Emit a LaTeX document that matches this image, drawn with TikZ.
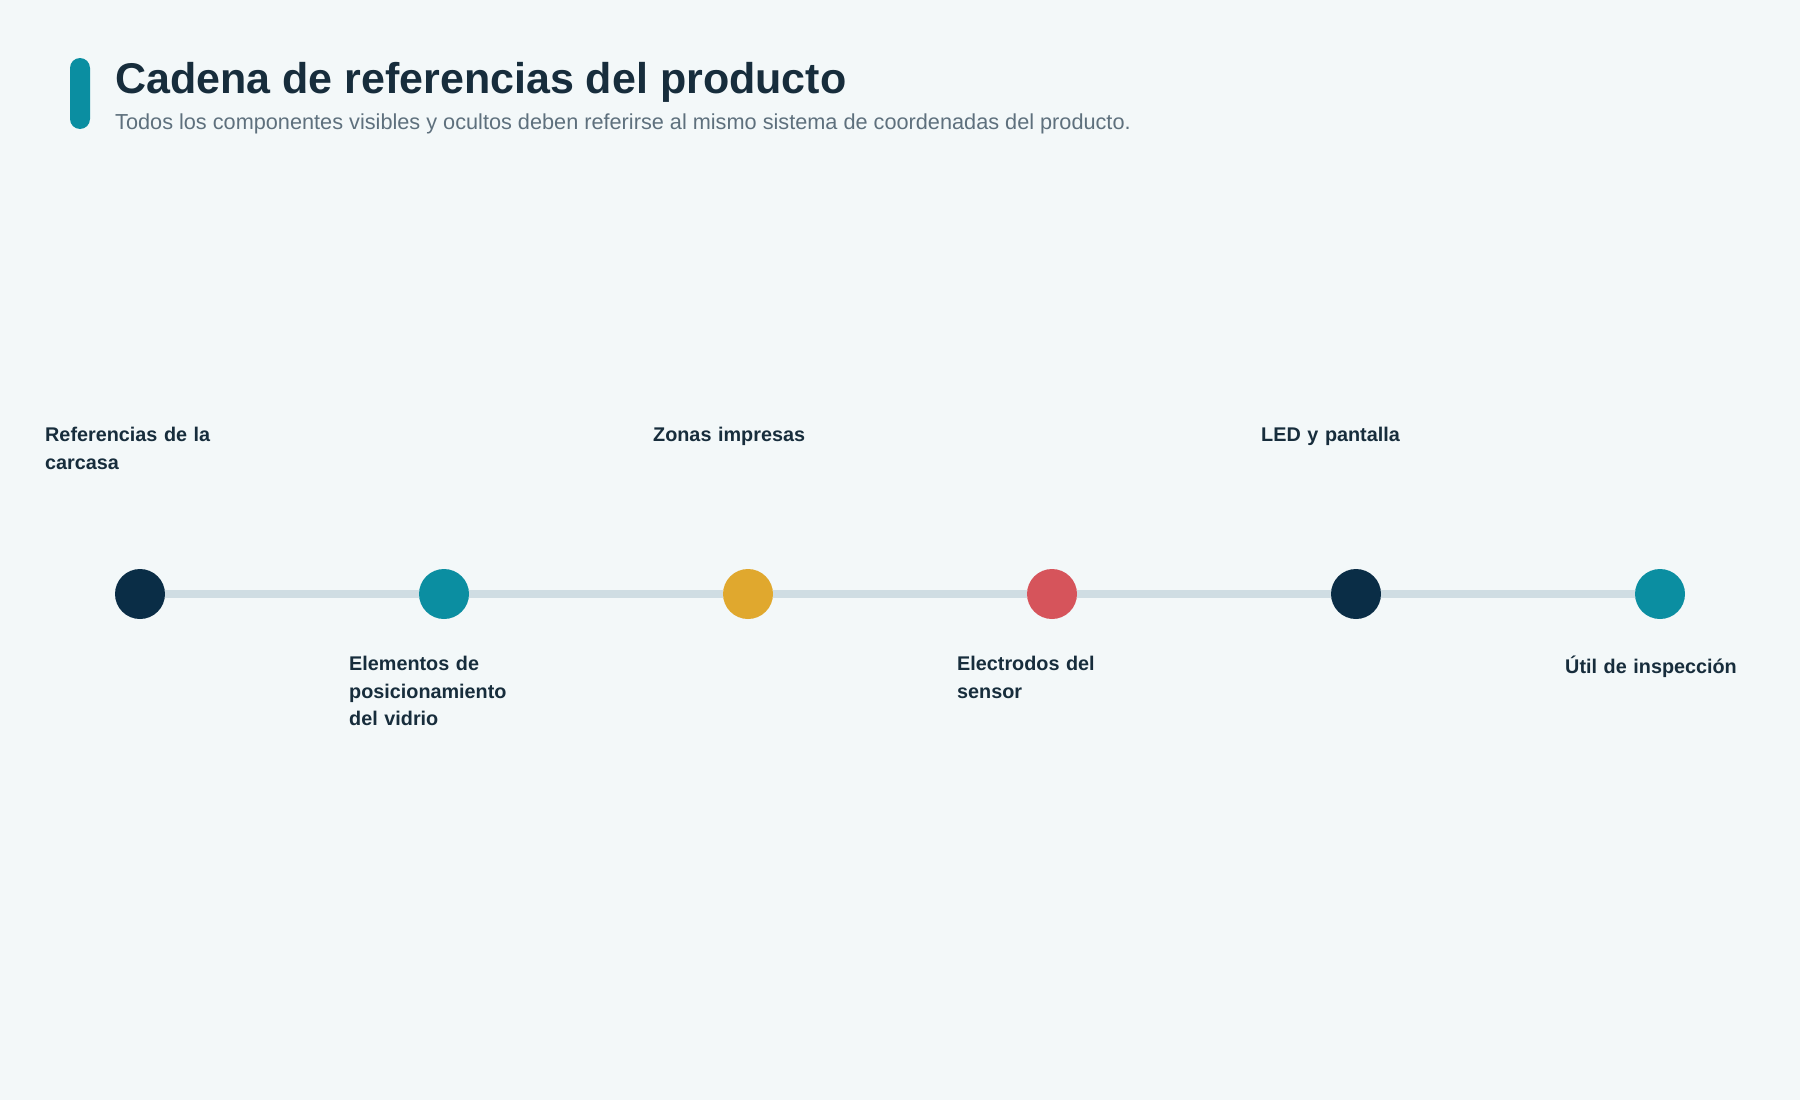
\documentclass[tikz,border=0pt]{standalone}
\usepackage{fontspec}
\setmainfont{Liberation Sans}
\usepackage{tikz}
\usetikzlibrary{positioning, calc}
\definecolor{fondo}{HTML}{F3F8F9}
\definecolor{marino}{HTML}{0A2D46}
\definecolor{turquesa}{HTML}{0B8EA1}
\definecolor{ocre}{HTML}{E0A82E}
\definecolor{coral}{HTML}{D6545B}
\definecolor{pista}{HTML}{CFDDE3}
\definecolor{tinta}{HTML}{172D3C}
\definecolor{gris}{HTML}{5E707D}
\tikzset{
    x=1pt, y=-1pt,
    node distance=304pt, % Distance between two hitos, centre to centre
    hito/.style={ % The dots on the chain
        circle,
        minimum size=50pt,
        inner sep=0pt
    },
    etiqueta/.style={ % Text next to each hito
        text=tinta,
        font=\bfseries\fontsize{19.8}{27.5}\selectfont,
        execute at begin node={\hyphenpenalty=10000\exhyphenpenalty=10000},
        text width=190pt,
        align=left,
        inner sep=0pt,
        anchor=north west,
        xshift=-95pt
    },
    arriba/.style={etiqueta, yshift=167pt},
    abajo/.style={etiqueta, yshift=-62pt},
    pista/.style={ % Line between the hitos
        draw=pista,
        line width=8pt
    },
}
\begin{document}
\begin{tikzpicture}
            \fill[fondo] (0,0) rectangle (1800,1100);
            \useasboundingbox (0,0) rectangle (1800,1100);
            % header
            \fill[turquesa, rounded corners=10pt] (70,58) rectangle (90,129);
            \node[anchor=base west, inner sep=0pt, text=tinta,
                  font=\bfseries\fontsize{43}{50}\selectfont] (titulo) at (115,93)
                  {Cadena de referencias del producto};
            \node[anchor=base west, inner sep=0pt, text=gris,
                  font=\fontsize{21.7}{26}\selectfont] (subtitulo) at (115,129)
                  {Todos los componentes visibles y ocultos deben referirse al mismo sistema de coordenadas del producto.};
            % hitos
            \node[hito, fill=marino] (carcasa) at (140,594) {};
            \node[hito, fill=turquesa, right of=carcasa]      (vidrio)     {};
            \node[hito, fill=ocre, right of=vidrio]           (impresas)   {};
            \node[hito, fill=coral, right of=impresas]        (sensor)     {};
            \node[hito, fill=marino, right of=sensor]         (pantalla)   {};
            \node[hito, fill=turquesa, right of=pantalla]     (inspeccion) {};
            \foreach \a/\b in {carcasa/vidrio, vidrio/impresas, impresas/sensor,
                               sensor/pantalla, pantalla/inspeccion}
                \draw[pista] (\a) -- (\b);
            % etiquetas
            \node[arriba] at (carcasa)    {Referencias de la carcasa};
            \node[abajo]  at (vidrio)     {Elementos de posicionamiento del vidrio};
            \node[arriba] at (impresas)   {Zonas impresas};
            \node[abajo]  at (sensor)     {Electrodos del sensor};
            \node[arriba] at (pantalla)   {LED y pantalla};
            \node[abajo]  at (inspeccion) {Útil de inspección};
        \end{tikzpicture}
\end{document}
